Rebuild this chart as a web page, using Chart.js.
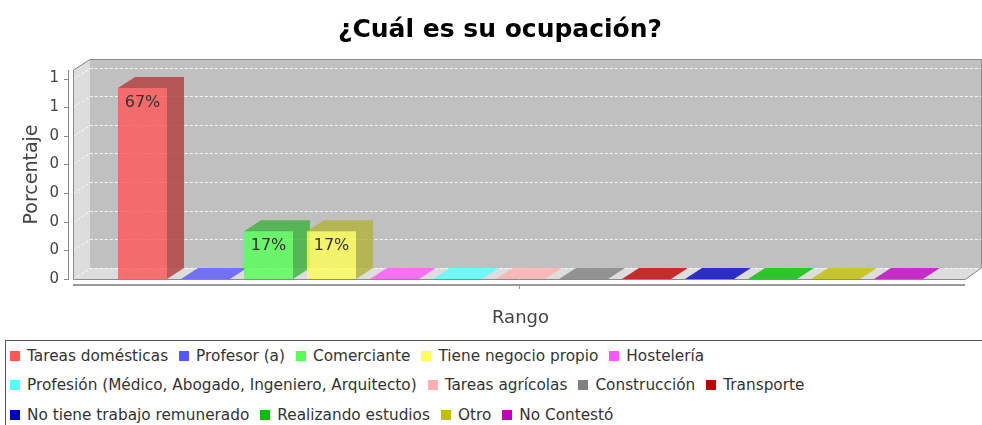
<!DOCTYPE html>
<html>
<head>
<meta charset="utf-8">
<script src="https://cdn.jsdelivr.net/npm/chart.js@4.4.1/dist/chart.umd.min.js"></script>
<style>
  body { margin: 0; background: #fff; overflow: hidden; }
  #wrap { position: relative; width: 1000px; height: 425px; }
  #legend {
    position: absolute; left: 5px; top: 340px; width: 990px; height: 92px;
    box-sizing: border-box; border: 1px solid #555; padding-left: 4px;
    display: flex; flex-wrap: wrap; column-gap: 11px; align-content: flex-start;
    font: 15.3px "DejaVu Sans", sans-serif; color: #333;
  }
  .item { display: flex; align-items: center; height: 29.5px; white-space: nowrap; }
  .sw { width: 10px; height: 10px; margin-right: 7px; }
</style>
</head>
<body>
<div id="wrap">
  <canvas id="chart" width="1000" height="340"></canvas>
  <div id="legend"></div>
</div>
<script>
const categories = ['Tareas domésticas', 'Profesor (a)', 'Comerciante', 'Tiene negocio propio', 'Hostelería',
  'Profesión (Médico, Abogado, Ingeniero, Arquitecto)', 'Tareas agrícolas', 'Construcción', 'Transporte',
  'No tiene trabajo remunerado', 'Realizando estudios', 'Otro', 'No Contestó'];
const values = [0.667, 0, 0.167, 0.167, 0, 0, 0, 0, 0, 0, 0, 0, 0];
const colors = ['#FF5555', '#5555FF', '#55FF55', '#FFFF55', '#FF55FF', '#55FFFF', '#FFAFAF',
  '#808080', '#C00000', '#0000C0', '#00C000', '#C0C000', '#C000C0'];
const yTicks = [0, 0.1, 0.2, 0.3, 0.4, 0.5, 0.6, 0.7];
const yTickLabels = ['0', '0', '0', '0', '0', '0', '1', '1'];

// 3D depth offset
const DX = 17, DY = 11;

function shade(hex, f, a) {
  const n = parseInt(hex.slice(1), 16);
  const r = Math.floor((n >> 16 & 255) * f), g = Math.floor((n >> 8 & 255) * f), b = Math.floor((n & 255) * f);
  return `rgba(${r},${g},${b},${a})`;
}

function poly(ctx, pts) {
  ctx.beginPath();
  pts.forEach((p, i) => i ? ctx.lineTo(p[0], p[1]) : ctx.moveTo(p[0], p[1]));
  ctx.closePath();
}

const plot3d = {
  id: 'plot3d',
  beforeDatasetsDraw(chart) {
    const { ctx, chartArea: ca, scales: { y } } = chart;
    const L = ca.left - 38, R = ca.right + 35, T = ca.top, B = ca.bottom;
    ctx.save();
    // walls and floor
    ctx.fillStyle = '#dddddd';
    poly(ctx, [[L, T], [L + DX, T - DY], [L + DX, B - DY], [L, B]]); ctx.fill();
    poly(ctx, [[L, B], [L + DX, B - DY], [R + DX, B - DY], [R, B]]); ctx.fill();
    ctx.fillStyle = '#c0c0c0';
    ctx.fillRect(L + DX, T - DY, R - L, B - T);

    // dashed gridlines on the back wall
    ctx.strokeStyle = 'rgba(255,255,255,0.85)';
    ctx.lineWidth = 1;
    ctx.setLineDash([3, 2]);
    yTicks.forEach(v => {
      const py = Math.round(y.getPixelForValue(v)) + 0.5;
      ctx.beginPath();
      ctx.moveTo(L, py); ctx.lineTo(L + DX, py - DY); ctx.lineTo(R + DX, py - DY);
      ctx.stroke();
    });
    ctx.setLineDash([]);

    // outline
    ctx.strokeStyle = '#8a8a8a';
    poly(ctx, [[L + 0.5, T], [L + DX, T - DY + 0.5], [R + DX - 0.5, T - DY + 0.5], [R + DX - 0.5, B - DY], [R, B + 0.5], [L + 0.5, B + 0.5]]);
    ctx.stroke();

    // y axis line and tick marks
    ctx.strokeStyle = '#888';
    ctx.beginPath();
    ctx.moveTo(L - 4.5, T); ctx.lineTo(L - 4.5, B + 1);
    yTicks.forEach(v => {
      const py = Math.round(y.getPixelForValue(v)) + 0.5;
      ctx.moveTo(L - 9, py); ctx.lineTo(L - 4.5, py);
    });
    ctx.stroke();

    // x axis line with centre tick
    ctx.lineWidth = 2;
    ctx.strokeStyle = '#999';
    ctx.beginPath();
    ctx.moveTo(L, B + 6); ctx.lineTo(R, B + 6);
    ctx.stroke();
    ctx.lineWidth = 1;
    ctx.beginPath();
    ctx.moveTo(Math.round((L + R) / 2) + 0.5, B + 6); ctx.lineTo(Math.round((L + R) / 2) + 0.5, B + 10);
    ctx.stroke();
    ctx.restore();
  },
  afterDatasetsDraw(chart) {
    const ctx = chart.ctx;
    const meta = chart.getDatasetMeta(0);
    ctx.save();
    meta.data.forEach((bar, i) => {
      const { x, y: top, base, width } = bar.getProps(['x', 'y', 'base', 'width'], true);
      const x0 = x - width / 2, x1 = x + width / 2;
      const c = colors[i];
      if (values[i] > 0) {
        ctx.fillStyle = shade(c, 1, 0.8);
        ctx.fillRect(x0, top, width, base - top);
        ctx.fillStyle = shade(c, 0.7, 0.8);
        poly(ctx, [[x0, top], [x0 + DX, top - DY], [x1 + DX, top - DY], [x1 + DX, base - DY], [x1, base], [x1, top]]);
        ctx.fill();
        ctx.fillStyle = '#333';
        ctx.font = '16px "DejaVu Sans"';
        ctx.textAlign = 'center';
        ctx.textBaseline = 'middle';
        ctx.fillText(Math.round(values[i] * 100) + '%', x, top + 15);
      } else {
        ctx.fillStyle = shade(c, 1, 0.8);
        poly(ctx, [[x0, base], [x0 + DX, base - DY], [x1 + DX, base - DY], [x1, base]]);
        ctx.fill();
      }
    });
    ctx.restore();
  }
};

Chart.defaults.font.family = 'DejaVu Sans';

new Chart(document.getElementById('chart'), {
  type: 'bar',
  data: {
    labels: categories,
    datasets: [{
      data: values,
      backgroundColor: 'rgba(0,0,0,0)',
      borderWidth: 0,
      barPercentage: 0.778,
      categoryPercentage: 1
    }]
  },
  options: {
    responsive: false,
    animation: false,
    devicePixelRatio: 1,
    plugins: {
      legend: { display: false },
      tooltip: { enabled: false },
      title: {
        display: true,
        text: '¿Cuál es su ocupación?',
        color: '#000',
        font: { size: 25, weight: 'bold' },
        padding: { top: 15, bottom: 25 }
      }
    },
    scales: {
      x: {
        offset: true,
        grid: { display: false },
        border: { display: false },
        ticks: { display: false },
        title: { display: true, text: 'Rango', color: '#444', font: { size: 18 }, padding: { top: 0, bottom: 11 } },
        afterFit(s) { s.height = 61; }
      },
      y: {
        min: 0,
        max: 0.73,
        grid: { display: false, drawTicks: false },
        border: { display: false },
        afterBuildTicks(s) { s.ticks = yTicks.map(v => ({ value: v })); },
        ticks: { callback: (v, i) => yTickLabels[i], color: '#444', font: { size: 15 }, padding: 52 },
        title: { display: true, text: 'Porcentaje', color: '#444', font: { size: 19 }, padding: { top: 21, bottom: 0 } },
        afterFit(s) { s.width = 111; }
      },
      // empty right-hand spacer so the title stays centred on the full width
      spacer: {
        type: 'linear',
        position: 'right',
        grid: { display: false },
        border: { display: false },
        ticks: { display: false },
        afterFit(s) { s.width = 70; }
      }
    }
  },
  plugins: [plot3d]
});

// --- HTML legend ---
const legend = document.getElementById('legend');
categories.forEach((name, i) => {
  const item = document.createElement('div');
  item.className = 'item';
  const sw = document.createElement('span');
  sw.className = 'sw';
  sw.style.background = colors[i];
  item.appendChild(sw);
  item.appendChild(document.createTextNode(name));
  legend.appendChild(item);
});
</script>
</body>
</html>
